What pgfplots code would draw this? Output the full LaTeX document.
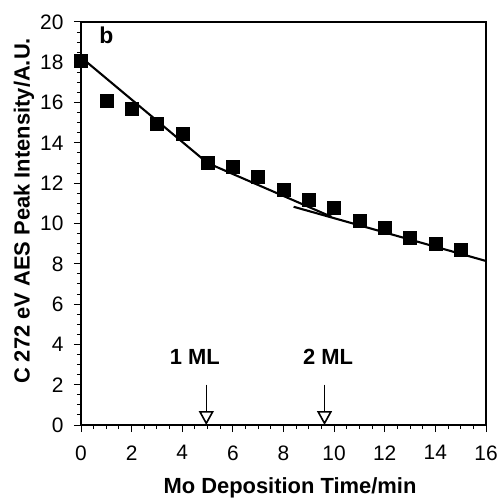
\documentclass[border=0pt]{standalone}
\usepackage{pgfplots}
\pgfplotsset{compat=1.18}
\usepackage{fontspec}
\setmainfont{Liberation Sans}
\usetikzlibrary{arrows.meta}
\newcommand{\tkfont}{\fontsize{21}{23}\selectfont}
\begin{document}
\begin{tikzpicture}
\begin{axis}[
  at={(0,0)}, anchor=south west,
  scale only axis, width=405bp, height=403bp,
  xmin=0, xmax=16, ymin=0, ymax=20,
  xtick={0,2,...,16}, ytick={0,2,...,20},
  minor tick num=3,
  tick align=outside,
  xtick pos=bottom, ytick pos=left,
  major tick length=7bp, minor tick length=4bp,
  every tick/.style={black, line width=1pt},
  axis line style={line width=1.3pt},
  xticklabel={\mbox{\tkfont\pgfmathprintnumber[assume math mode=true]{\tick}}},
  yticklabel={\mbox{\tkfont\pgfmathprintnumber[assume math mode=true]{\tick}}},
  xticklabel style={yshift=-10bp},
  yticklabel style={xshift=-7bp},
  xlabel={\textbf{Mo Deposition Time/min}},
  ylabel={\textbf{C 272 eV AES Peak Intensity/A.U.}},
  label style={font=\fontsize{22}{24}\selectfont},
  xlabel style={at={([yshift=-63bp]axis description cs:0.516,0)}, anchor=center},
  ylabel style={at={([xshift=-57bp]axis description cs:0,0.531)}, anchor=center},
  clip=false,
]
\addplot[only marks, mark=square*, mark size=6.5bp, black] coordinates {
(0,18.1) (1,16.1) (2,15.7) (3,14.94) (4,14.44) (5,13.0) (6,12.8) (7,12.33)
(8,11.7) (9,11.2) (10,10.8) (11,10.12) (12,9.8) (13,9.3) (14,9.0) (15,8.7)
};
\addplot[black, line width=2.1pt] coordinates {(0,18.25) (5,13.0)};
\addplot[black, line width=2.1pt] coordinates {(5,13.0) (9.9,10.33)};
\addplot[black, line width=2.1pt] coordinates {(8.4,10.83) (16,8.14)};
\addplot[black, line width=1.6pt, -{Triangle[open, width=15bp, length=14bp]}] coordinates {(4.95,2.0) (4.95,0)};
\addplot[black, line width=1.6pt, -{Triangle[open, width=15bp, length=14bp]}] coordinates {(9.62,2.0) (9.62,0)};
\node[font=\bfseries\fontsize{22}{24}\selectfont] at (axis cs:4.5,3.37) {1 ML};
\node[font=\bfseries\fontsize{22}{24}\selectfont] at (axis cs:9.76,3.37) {2 ML};
\node[font=\bfseries\fontsize{23}{25}\selectfont] at (axis cs:1.0,19.35) {b};
\end{axis}
\pgfresetboundingbox
\path (-81bp,-73bp) rectangle (418bp,425bp);
\end{tikzpicture}
\end{document}
